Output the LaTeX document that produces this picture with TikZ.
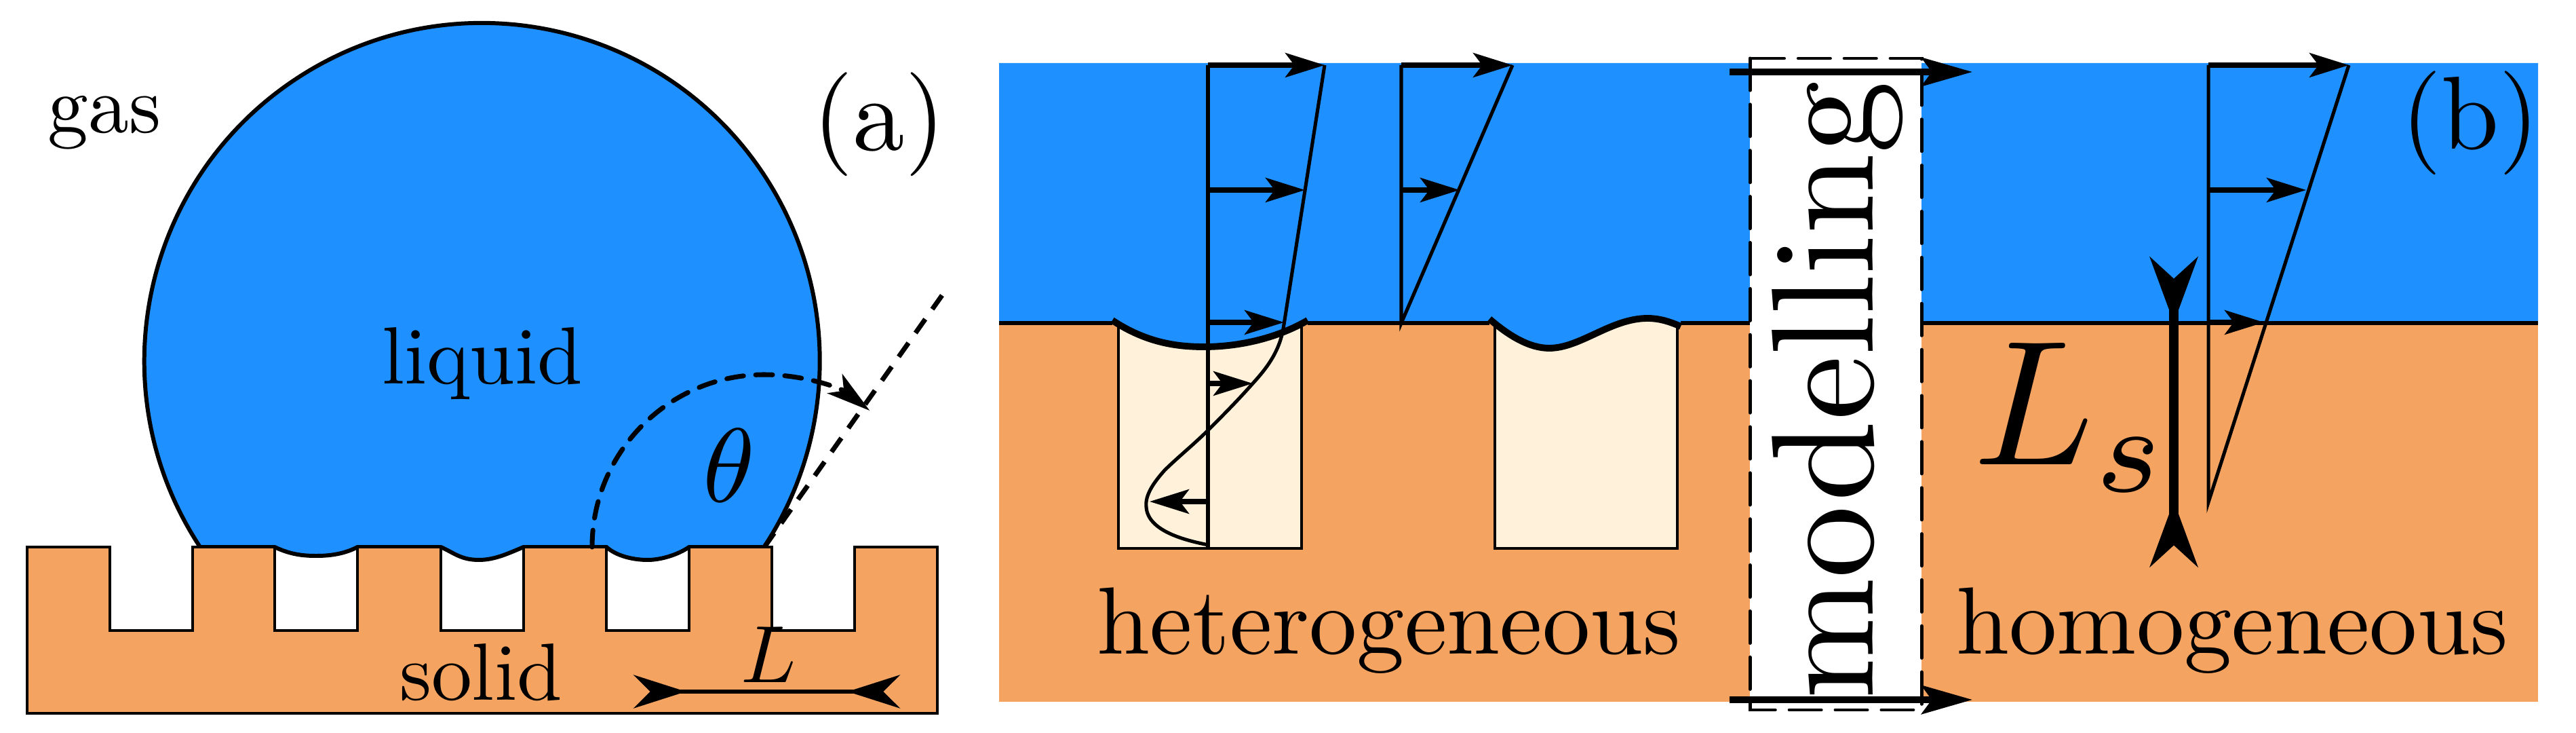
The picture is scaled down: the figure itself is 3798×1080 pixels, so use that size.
\documentclass[tikz,border=0pt]{standalone}
\usepackage{tikz}
\usetikzlibrary{arrows.meta}
\definecolor{liquidblue}{RGB}{30,144,255}
\definecolor{solidbrown}{RGB}{244,164,96}
\definecolor{groovecream}{RGB}{255,241,218}
\newcommand{\grooveA}{(1640,472) .. controls (1690,505) and (1735,511) .. (1775,511) .. controls (1830,511) and (1885,497) .. (1928,472)}
\newcommand{\grooveB}{(2196,470) .. controls (2225,495) and (2255,513) .. (2284,513) .. controls (2330,513) and (2375,469) .. (2429,469) .. controls (2445,469) and (2460,473) .. (2478,481)}
\tikzset{
  thinline/.style={line width=1.15pt},
  velline/.style={line width=1.45pt},
  velarrow/.style={line width=2pt,-{Stealth[length=16.5pt,width=10.2pt,inset=3.8pt]}},
  dashline/.style={line width=2pt,dash pattern=on 7.1pt off 5.1pt},
  label/.style={anchor=base,inner sep=0pt,scale=#1}
}

\begin{document}
\begin{tikzpicture}[x=0.01cm,y=-0.01cm]
  \useasboundingbox (0,0) rectangle (3798,1080);
  % panel a
  \draw[line width=1.7pt,fill=liquidblue] (295,806) arc[start angle=146.6,end angle=393.4,radius=498] -- (1016,806)
    .. controls (1000,817) and (975,825) .. (955,825) .. controls (935,825) and (910,820) .. (894,806) -- (772,806)
    .. controls (750,815) and (730,825) .. (706,825) .. controls (680,825) and (670,815) .. (650,806) -- (527,806)
    .. controls (510,815) and (490,819) .. (467,819) .. controls (450,819) and (430,818) .. (405,806) -- cycle;
  \draw[thinline,fill=solidbrown] (40,806) -- (162,806) -- (162,929) -- (284,929) -- (284,806) -- (405,806) -- (405,929) -- (527,929) -- (527,806)
    -- (650,806) -- (650,929) -- (772,929) -- (772,806) -- (894,806) -- (894,929) -- (1016,929) -- (1016,806) -- (1138,806)
    -- (1138,929) -- (1260,929) -- (1260,806) -- (1382,806) -- (1382,1051) -- (40,1051) -- cycle;
  \coordinate (contact) at (1127,806);
  \coordinate (tangentend) at (1394,428);
  \draw[dashline] (contact) -- (tangentend);
  \draw[dashline,line cap=round,-{Stealth[length=18.5pt,width=10.2pt,inset=4.8pt]}] (873,806) arc[start angle=180,end angle=307.7,radius=254];
  \coordinate (Lleft) at (934,1019);
  \coordinate (Lright) at (1327,1019);
  \draw[velline,{Stealth[reversed,length=22pt,width=14pt,inset=7pt]}-{Stealth[reversed,length=22pt,width=14pt,inset=7pt]}] (Lleft) -- (Lright);
  \node[label=3.4] (gas) at (154,196) {gas};
  \node[label=3.4] (liquid) at (711,566) {liquid};
  \node[label=3.4] (solid) at (709,1031) {solid};
  \node[label=3.4] (L) at (1133,1005) {$L$};
  \node[label=4.4] (theta) at (1075,740) {$\theta$};
  \node[label=4.35] (a) at (1296,222) {(a)};
  % panel b
  \fill[solidbrown] (1473,476) rectangle (3742,1034);
  \draw[thinline,fill=groovecream] (1649,466) rectangle (1919,808);
  \draw[thinline,fill=groovecream] (2204,466) rectangle (2473,808);
  \fill[liquidblue] (1473,93) -- (1473,476) -- (1640,476) -- \grooveA -- (1928,476) -- (2196,476) -- \grooveB -- (2478,476) -- (3742,476) -- (3742,93) -- cycle;
  \draw[velline] (1473,476) -- (1640,476) (1928,476) -- (2196,476) (2478,476) -- (3742,476);
  \draw[line width=2.8pt] \grooveA;
  \draw[line width=2.8pt] \grooveB;
  % first profile
  \draw[velline] (1781,96) -- (1781,808);
  \draw[velline] (1953,96) -- (1893,478) .. controls (1888,515) and (1870,540) .. (1847,565)
    .. controls (1825,590) and (1800,615) .. (1782,633) .. controls (1760,655) and (1735,675) .. (1717,693)
    .. controls (1700,712) and (1688,730) .. (1690,747) .. controls (1692,780) and (1740,795) .. (1782,803);
  \foreach \y/\xtip in {96/1953,280/1924,475/1893,565/1847,739/1695}
    \draw[velarrow] (1781,\y) -- (\xtip,\y);
  % second profile
  \draw[velline] (2230,96) -- (2066,476) -- (2066,96);
  \foreach \y/\xtip in {96/2230,280/2152}
    \draw[velarrow] (2066,\y) -- (\xtip,\y);
  % third profile
  \draw[velline] (3463,96) -- (3256,740) -- (3256,96);
  \foreach \y/\xtip in {96/3463,280/3400,475/3338}
    \draw[velarrow] (3256,\y) -- (\xtip,\y);
  % slip length
  \coordinate (Lsup) at (3205,379);
  \coordinate (Lsdown) at (3205,835);
  \draw[line width=4pt,{Stealth[reversed,length=27.5pt,width=20pt,inset=9pt]}-{Stealth[reversed,length=27.5pt,width=20pt,inset=9pt]}] (Lsup) -- (Lsdown);
  \node[label=7.45] (Ls) at (3055,685) {$L_s$};
  \node[label=4] (het) at (2048,963) {heterogeneous};
  \node[label=4] (hom) at (3291,963) {homogeneous};
  \node[label=4.35] (b) at (3642,220) {(b)};
  % modelling box
  \draw[line width=1.4pt,line cap=round,fill=white,dash pattern=on 13.4pt off 5.9pt] (2580,86) rectangle (2833,1046);
  \node[label=6.1,rotate=90] (model) at (2761,575) {modelling};
  \coordinate (arrowtopa) at (2550,106);
  \coordinate (arrowtopb) at (2908,106);
  \coordinate (arrowbota) at (2550,1031);
  \coordinate (arrowbotb) at (2908,1031);
  \draw[line width=2.85pt,-{Stealth[length=21.3pt,width=12pt,inset=4.3pt]}] (arrowtopa) -- (arrowtopb);
  \draw[line width=2.85pt,-{Stealth[length=21.3pt,width=12pt,inset=4.3pt]}] (arrowbota) -- (arrowbotb);
\end{tikzpicture}
\end{document}
